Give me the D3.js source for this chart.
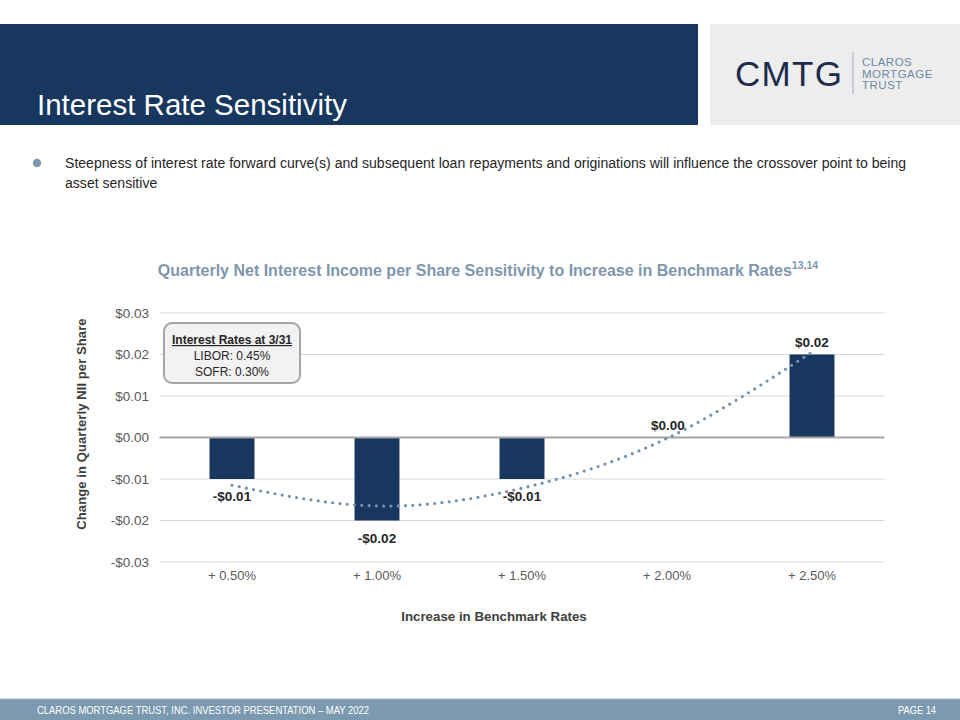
<!DOCTYPE html>
<html><head><meta charset="utf-8">
<script src="https://cdn.jsdelivr.net/npm/d3@7"></script>
<style>
html,body{margin:0;padding:0;background:#fff;}
svg{display:block;font-family:"Liberation Sans",Arial,sans-serif;}
</style></head>
<body>
<svg id="c" width="960" height="720"></svg>
<script>
const categories = ["+ 0.50%", "+ 1.00%", "+ 1.50%", "+ 2.00%", "+ 2.50%"];
const nii = [-0.01, -0.02, -0.01, 0.00, 0.02];
const niiLabels = ["-$0.01", "-$0.02", "-$0.01", "$0.00", "$0.02"];
const trend = [-0.0115, -0.0165, -0.0122, -0.0002, 0.0206];
const yTicks = [-0.03, -0.02, -0.01, 0.00, 0.01, 0.02, 0.03];
const rateNotes = ["LIBOR: 0.45%", "SOFR: 0.30%"];

const svg = d3.select("#c");
const navy = "#17375e";

// Header band
svg.append("rect").attr("x", 0).attr("y", 24).attr("width", 698).attr("height", 101).attr("fill", navy);
svg.append("text").attr("x", 37).attr("y", 115).attr("fill", "#fff").attr("font-size", 29.5)
  .text("Interest Rate Sensitivity");
// Logo box
svg.append("rect").attr("x", 710).attr("y", 24).attr("width", 250).attr("height", 101).attr("fill", "#ededee");
svg.append("text").attr("x", 735).attr("y", 86).attr("fill", "#1d2b4c").attr("font-size", 35)
  .attr("letter-spacing", 1.3).text("CMTG");
svg.append("line").attr("x1", 853).attr("x2", 853).attr("y1", 52).attr("y2", 94).attr("stroke", "#9fb1c4").attr("stroke-width", 1);
["CLAROS", "MORTGAGE", "TRUST"].forEach((t, i) => {
  svg.append("text").attr("x", 862).attr("y", 66 + i * 11.5).attr("fill", "#6e89a5").attr("font-size", 11.5)
    .attr("letter-spacing", 0.5).text(t);
});

// Bullet
svg.append("circle").attr("cx", 37).attr("cy", 163).attr("r", 4.2).attr("fill", "#7f97ad");
svg.append("text").attr("x", 65).attr("y", 168).attr("fill", "#262626").attr("font-size", 14.07)
  .text("Steepness of interest rate forward curve(s) and subsequent loan repayments and originations will influence the crossover point to being");
svg.append("text").attr("x", 65).attr("y", 188).attr("fill", "#262626").attr("font-size", 14.07)
  .text("asset sensitive");

// Chart title
const tt = svg.append("text").attr("x", 488).attr("y", 276).attr("text-anchor", "middle")
  .attr("fill", "#8096ac").attr("font-size", 16).attr("font-weight", "bold");
tt.append("tspan").text("Quarterly Net Interest Income per Share Sensitivity to Increase in Benchmark Rates");
tt.append("tspan").attr("font-size", 10.5).attr("dy", -7).text("13,14");

// Scales
const x = d3.scaleBand().domain(categories).range([159.5, 884.5]).paddingInner(0.69).paddingOuter(0.345);
const y = d3.scaleLinear().domain([-0.03, 0.03]).range([562, 313]);

// Gridlines
svg.append("g").selectAll("line").data(yTicks.filter(d => d !== 0)).join("line")
  .attr("x1", 159.5).attr("x2", 884.5).attr("y1", d => y(d)).attr("y2", d => y(d))
  .attr("stroke", "#d9d9d9").attr("stroke-width", 1);

// Y axis labels
const yAxis = d3.axisLeft(y).tickValues(yTicks).tickSize(0).tickPadding(0)
  .tickFormat(d => (d < 0 ? "-$" : "$") + Math.abs(d).toFixed(2));
const yg = svg.append("g").attr("transform", "translate(149,0)").call(yAxis);
yg.select(".domain").remove();
yg.selectAll("text").attr("font-size", 13.5).attr("fill", "#595959").attr("font-family", "Liberation Sans, Arial, sans-serif");

// Bars
svg.append("g").selectAll("rect").data(nii).join("rect")
  .attr("x", (d, i) => x(categories[i]))
  .attr("width", x.bandwidth())
  .attr("y", d => y(Math.max(0, d)))
  .attr("height", d => Math.abs(y(d) - y(0)))
  .attr("fill", navy);

// Zero line
svg.append("line").attr("x1", 159.5).attr("x2", 884.5).attr("y1", y(0)).attr("y2", y(0))
  .attr("stroke", "#a6a6a6").attr("stroke-width", 2);

// X axis labels
const xAxis = d3.axisBottom(x).tickSize(0).tickPadding(0);
const xg = svg.append("g").attr("transform", "translate(0,571)").call(xAxis);
xg.select(".domain").remove();
xg.selectAll("text").attr("font-size", 13).attr("fill", "#595959").attr("font-family", "Liberation Sans, Arial, sans-serif");

// Trend line
const line = d3.line().x((d, i) => x(categories[i]) + x.bandwidth() / 2).y(d => y(d)).curve(d3.curveNatural);
svg.append("path").datum(trend).attr("d", line).attr("fill", "none")
  .attr("stroke", "#7590aa").attr("stroke-width", 3.2).attr("stroke-linecap", "round")
  .attr("stroke-dasharray", "0 7.3");

// Data labels
svg.append("g").selectAll("text").data(nii).join("text")
  .attr("x", (d, i) => x(categories[i]) + x.bandwidth() / 2 + (d === 0 ? 1 : 0))
  .attr("y", d => d < 0 ? y(d) + 22 : y(d) - 8)
  .attr("text-anchor", "middle").attr("font-size", 13.5).attr("font-weight", "bold").attr("fill", "#262626")
  .text((d, i) => niiLabels[i]);

// Axis titles
svg.append("text").attr("transform", "translate(86,424) rotate(-90)").attr("text-anchor", "middle")
  .attr("font-size", 13).attr("font-weight", "bold").attr("fill", "#404040").attr("letter-spacing", 0.1)
  .text("Change in Quarterly NII per Share");
svg.append("text").attr("x", 494).attr("y", 621).attr("text-anchor", "middle")
  .attr("font-size", 13.3).attr("font-weight", "bold").attr("fill", "#404040")
  .text("Increase in Benchmark Rates");

// Rates box
svg.append("rect").attr("x", 164).attr("y", 323).attr("width", 136).attr("height", 60).attr("rx", 8)
  .attr("fill", "#f2f2f2").attr("stroke", "#a6a6a6").attr("stroke-width", 2);
svg.append("text").attr("x", 232).attr("y", 344).attr("text-anchor", "middle").attr("font-size", 12)
  .attr("font-weight", "bold").attr("fill", "#262626").attr("text-decoration", "underline")
  .text("Interest Rates at 3/31");
rateNotes.forEach((t, i) => {
  svg.append("text").attr("x", 232).attr("y", 360 + i * 16).attr("text-anchor", "middle").attr("font-size", 12)
    .attr("fill", "#262626").text(t);
});

// Footer
svg.append("rect").attr("x", 0).attr("y", 699).attr("width", 960).attr("height", 21).attr("fill", "#7b9ab0");
svg.append("line").attr("x1", 0).attr("x2", 960).attr("y1", 699).attr("y2", 699).attr("stroke", "#9fb4c4").attr("stroke-width", 1);
svg.append("text").attr("x", 37).attr("y", 714).attr("fill", "#fff").attr("font-size", 10.5)
  .attr("textLength", 332).attr("lengthAdjust", "spacingAndGlyphs")
  .text("CLAROS MORTGAGE TRUST, INC. INVESTOR PRESENTATION – MAY 2022");
svg.append("text").attr("x", 898).attr("y", 714).attr("fill", "#fff").attr("font-size", 10.5)
  .attr("textLength", 38).attr("lengthAdjust", "spacingAndGlyphs")
  .text("PAGE 14");
</script>
</body></html>
